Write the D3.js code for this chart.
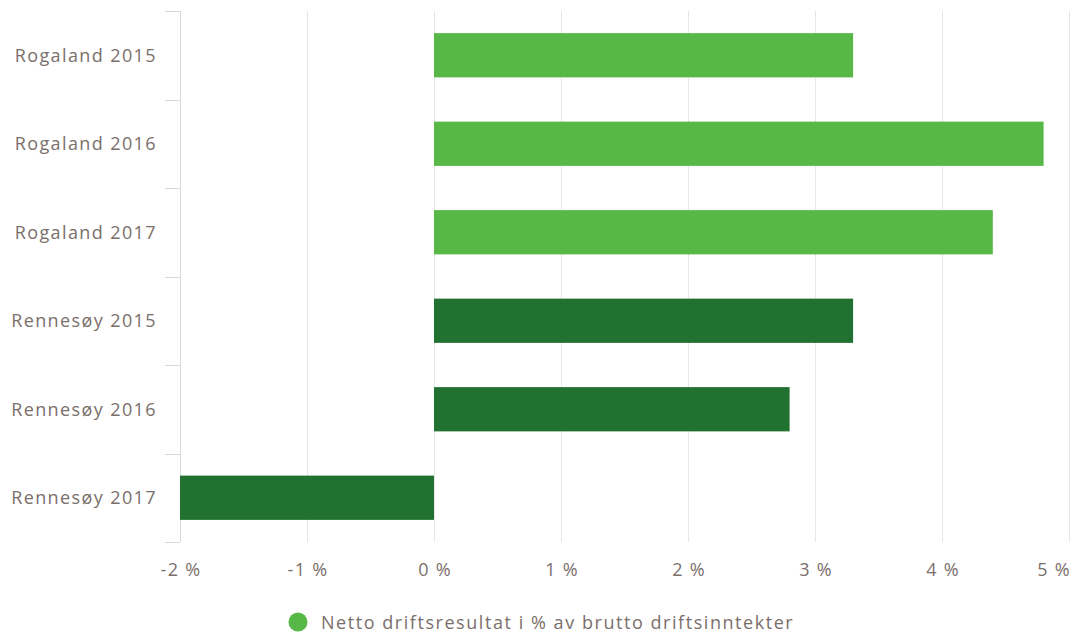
<!DOCTYPE html>
<html>
<head>
<meta charset="utf-8">
<script src="https://cdn.jsdelivr.net/npm/d3@7"></script>
<style>
  html, body { margin: 0; padding: 0; background: #fff; }
  svg { display: block; font-family: "Open Sans", sans-serif; }
</style>
</head>
<body>
<svg id="chart" width="1074" height="637"></svg>
<script>
const categories = ["Rogaland 2015", "Rogaland 2016", "Rogaland 2017", "Rennesøy 2015", "Rennesøy 2016", "Rennesøy 2017"];
const values = [3.3, 4.8, 4.4, 3.3, 2.8, -2.0];
const barColors = ["#57b848", "#57b848", "#57b848", "#217130", "#217130", "#217130"];
const xTicks = [-2, -1, 0, 1, 2, 3, 4, 5];
const legendLabel = "Netto driftsresultat i % av brutto driftsinntekter";
const legendColor = "#57b848";

(function () {
const svg = d3.select("#chart");
const mLeft = 180, mRight = 1069, mTop = 11, mBottom = 542;
const textColor = "#7a6f6b";
const gridColor = "#e6e6e6";

const x = d3.scaleLinear().domain([-2, 5]).range([mLeft, mRight]);
const y = d3.scaleBand().domain(categories).range([mTop, mBottom]).paddingInner(0.5).paddingOuter(0.25);

// grid lines
svg.append("g").selectAll("line").data(xTicks).join("line")
  .attr("x1", d => Math.round(x(d)) + 0.5).attr("x2", d => Math.round(x(d)) + 0.5)
  .attr("y1", mTop).attr("y2", mBottom)
  .attr("stroke", gridColor).attr("stroke-width", 1);

// y axis line and category ticks
const yAxisG = svg.append("g");
yAxisG.append("line")
  .attr("x1", mLeft + 0.5).attr("x2", mLeft + 0.5)
  .attr("y1", mTop).attr("y2", mBottom)
  .attr("stroke", "#d8d8d8");
const boundaries = d3.range(categories.length + 1).map(i => mTop + i * y.step());
yAxisG.selectAll("line.tk").data(boundaries).join("line").attr("class", "tk")
  .attr("x1", mLeft - 15).attr("x2", mLeft)
  .attr("y1", d => Math.round(d) + 0.5).attr("y2", d => Math.round(d) + 0.5)
  .attr("stroke", "#d8d8d8");
yAxisG.selectAll("text").data(categories).join("text")
  .attr("x", 157)
  .attr("y", d => y(d) + y.bandwidth() / 2)
  .attr("dy", "0.35em")
  .attr("text-anchor", "end")
  .attr("fill", textColor)
  .attr("font-size", 18)
  .attr("letter-spacing", 1.4)
  .text(d => d);

// bars
svg.append("g").selectAll("rect").data(values).join("rect")
  .attr("x", d => x(Math.min(0, d)))
  .attr("width", d => Math.abs(x(d) - x(0)))
  .attr("y", (d, i) => y(categories[i]))
  .attr("height", y.bandwidth())
  .attr("fill", (d, i) => barColors[i]);

// x axis labels
const lastTick = xTicks[xTicks.length - 1];
svg.append("g").selectAll("text").data(xTicks).join("text")
  .attr("x", d => d === lastTick ? x(d) + 2 : x(d) + 1)
  .attr("y", 576)
  .attr("text-anchor", d => d === lastTick ? "end" : "middle")
  .attr("fill", textColor)
  .attr("font-size", 18)
  .attr("letter-spacing", 1.3)
  .text(d => d + " %");

// legend
const lg = svg.append("g");
lg.append("circle").attr("cx", 298).attr("cy", 622).attr("r", 9.5).attr("fill", legendColor);
lg.append("text").attr("x", 321).attr("y", 629)
  .attr("fill", textColor).attr("font-size", 18)
  .attr("letter-spacing", 1.55)
  .text(legendLabel);
})();
</script>
</body>
</html>
